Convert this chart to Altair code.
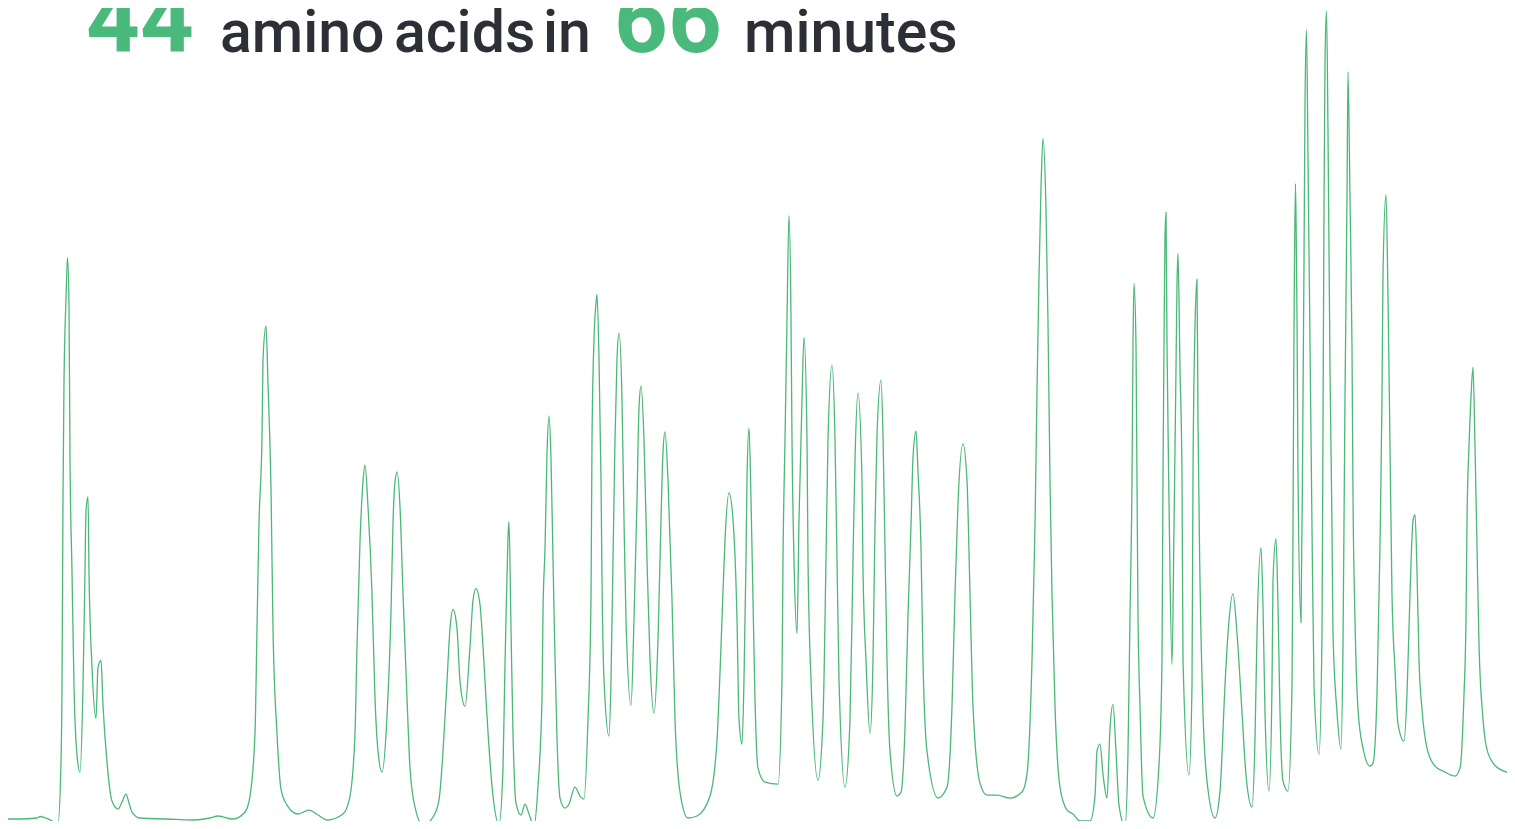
import altair as alt
import pandas as pd

# Retention time (arbitrary units, left to right) and detector signal (arbitrary units, baseline ~ 0)
TIME = [
    8, 20, 37, 40, 46, 58, 61, 62, 63, 64, 66, 67.5, 69, 70, 72, 74, 77, 80, 83, 85, 86, 88, 89, 92, 96, 98,
    101, 103, 107, 112, 118, 122, 126, 129, 132, 140, 167, 193, 210, 218, 233, 245, 250, 255, 257, 259, 262,
    263, 266, 268, 271, 273, 277, 281, 287, 298, 309, 318, 327, 343, 350, 355, 357, 360, 363, 365, 368, 372,
    375, 378, 382, 387, 391, 393, 395, 397, 400, 403, 407, 410, 415, 423, 433, 439, 443, 447, 450, 453, 457,
    460, 465, 470, 473, 476, 480, 483, 487, 492, 499, 503, 505, 507, 508, 509, 511, 513, 516, 521, 525, 529,
    534, 538, 542, 543, 545, 547, 549, 551, 553, 555, 557, 560, 565, 569, 575, 580, 584, 588, 591, 592, 594,
    596, 597, 599, 601, 602, 604, 609, 611, 613, 615, 617, 619, 622, 624, 626, 631, 634, 637, 639, 641, 644,
    647, 650, 654, 658, 661, 663, 665, 668, 672, 675, 680, 688, 697, 710, 717, 722, 725, 729, 733, 737, 739,
    742, 744, 746, 747, 749, 751, 753, 755, 758, 765, 778, 782, 783, 785, 787, 789, 791, 792, 794, 797, 799,
    802, 804, 807, 808, 811, 818, 823, 826, 828, 832, 835, 837, 839, 845, 850, 853, 855, 858, 862, 863, 866,
    870, 873, 875, 877, 881, 883, 885, 887, 890, 897, 901, 905, 908, 911, 913, 916, 918, 921, 923, 927, 938,
    947, 952, 955, 958, 963, 967, 970, 973, 980, 987, 997, 1010, 1022, 1027, 1032, 1035, 1037, 1039, 1041,
    1043, 1046, 1048, 1050, 1052, 1055, 1060, 1067, 1073, 1080, 1090, 1095, 1097, 1100, 1103, 1107, 1110,
    1113, 1116, 1119, 1125, 1128, 1130, 1132, 1133, 1134, 1136, 1137, 1138, 1140, 1143, 1153, 1159, 1162,
    1163, 1164, 1165, 1166, 1167, 1169, 1172, 1174, 1176, 1177, 1178, 1180, 1182, 1183, 1189, 1192, 1193,
    1195, 1197, 1198, 1200, 1203, 1207, 1215, 1220, 1225, 1228, 1233, 1237, 1242, 1246, 1252, 1255, 1257,
    1261, 1263, 1265, 1269, 1272, 1273, 1276, 1278, 1280, 1283, 1288, 1292, 1293, 1294, 1294.5, 1295.5,
    1296.5, 1297, 1298, 1301, 1303, 1304, 1305, 1306.5, 1308, 1310, 1312, 1314, 1319, 1322, 1323, 1324,
    1325, 1326.5, 1328, 1330, 1332, 1333, 1337, 1341, 1343, 1345, 1347, 1348, 1350, 1352, 1353, 1355, 1358,
    1363, 1370, 1373, 1377, 1380, 1382, 1383, 1386, 1388, 1390, 1392, 1395, 1398, 1404, 1407, 1410, 1413,
    1415, 1417, 1419, 1422, 1427, 1435, 1445, 1455, 1460, 1464, 1466, 1467, 1469, 1471, 1473, 1475, 1477,
    1479, 1483, 1488, 1498, 1515,
]
SIGNAL = [
    0, 0, 1, 2.5, 1, -4, 57, 133, 324, 438, 521, 563, 515, 362, 248, 133, 64, 47, 133, 248, 309, 323, 248, 152, 101, 152,
    159, 114, 57, 18, 10, 17, 25, 16, 7, 1, 0, -1, 1, 3, 0, 7, 23, 86, 191, 296, 383,
    461, 494, 436, 331, 191, 86, 30, 14, 5, 9, 4, -1, 5, 23, 86, 173, 278, 338, 355, 313, 226,
    121, 68, 47, 103, 208, 296, 338, 348, 313, 226, 121, 51, 12, -6, 2, 19, 68, 138, 191, 210, 191,
    138, 113, 173, 219, 231, 215, 173, 103, 33, -5, 51, 156, 243, 282, 298, 191, 86, 16, 4, 15, 5,
    -7, 33, 121, 208, 271, 366, 404, 361, 261, 161, 81, 21, 11, 15, 32, 23, 20, 100, 220, 380, 481,
    517, 526, 461, 340, 240, 140, 83, 140, 260, 380, 461, 487, 420, 300, 200, 114, 200, 320, 412, 434, 380,
    260, 160, 106, 180, 300, 368, 388, 340, 220, 100, 27, 1, 3, 23, 79, 200, 280, 327, 300, 200, 100,
    75, 140, 260, 340, 392, 320, 220, 120, 51, 37, 35, 140, 260, 380, 501, 605, 501, 380, 260, 186, 300,
    420, 483, 380, 260, 140, 39, 100, 260, 380, 455, 380, 260, 140, 32, 100, 260, 360, 427, 339, 249, 159,
    86, 159, 294, 385, 440, 385, 272, 159, 68, 23, 27, 91, 204, 294, 362, 389, 348, 272, 159, 68, 21,
    32, 113, 226, 317, 376, 339, 226, 113, 36, 24, 24, 21, 27, 45, 159, 294, 430, 543, 633,
    682, 611, 498, 339, 226, 113, 32, 9, 5, -2, -2, 23, 68, 75, 45, 21, 91,
    115, 68, 14, -7, 68, 204, 339, 475, 537, 475, 339, 204, 113, 23, 1, 54, 160,
    345, 477, 583, 608, 477, 319, 155, 292, 451, 535, 567, 451, 345, 160, 44, 134, 345,
    493, 541, 398, 239, 107, 38, 1, 28, 134, 186, 226, 186, 107, 44, 12, 81, 186,
    272, 213, 107, 28, 134, 239, 281, 213, 107, 38, 28, 134, 292, 491, 557, 637,
    557, 504, 345, 197, 421, 557, 715, 791, 662, 477, 292, 134, 65, 186, 398, 609,
    758, 810, 689, 451, 292, 186, 107, 70, 175, 423, 622, 749, 622, 473, 324, 200, 110,
    71, 53, 56, 125, 274, 423, 547, 626, 523, 374, 225, 150, 95, 78, 125, 225, 299,
    305, 249, 160, 110, 71, 53, 47, 43, 51, 125, 200, 299, 374, 423, 453, 374, 274,
    175, 100, 66, 51, 45,
]

TITLE_WORDS = ["44", "amino", "acids", "in", "66", "minutes"]
HIGHLIGHTED = ["44", "66"]

assert len(TIME) == len(SIGNAL)
df = pd.DataFrame({"time": TIME, "signal": SIGNAL})

GREEN = "#4ab97c"
LINE_GREEN = "#4ab878"
DARK = "#2c2f36"

W, H = 1499, 813

line = alt.Chart(df).mark_line(
    color=LINE_GREEN, strokeWidth=1.3, interpolate="monotone", clip=False
).encode(
    x=alt.X("time:Q", axis=None, scale=alt.Scale(domain=[8, 1507], nice=False, zero=False)),
    y=alt.Y("signal:Q", axis=None, scale=alt.Scale(domain=[-2, 813], nice=False, zero=False)),
)

# text placement (style): left x in view pixels
placements = {"44": 78, "amino": 212, "acids": 386, "in": 535, "66": 606, "minutes": 736}

texts = []
for w in TITLE_WORDS:
    big = w in HIGHLIGHTED
    t = alt.Chart(alt.Data(values=[{"word": w}])).mark_text(
        align="left",
        baseline="alphabetic",
        font="Roboto",
        fontSize=94 if big else 59,
        fontWeight="bold" if big else 500,
        color=GREEN if big else DARK,
    ).encode(
        text="word:N",
        x=alt.value(placements[w]),
        y=alt.value(44),
    )
    texts.append(t)

chart = alt.layer(line, *texts).properties(
    width=W, height=H, autosize="none", padding=0, background="white"
).configure_view(stroke=None)

chart.save("out.html", embed_options={"renderer": "svg", "actions": False})
